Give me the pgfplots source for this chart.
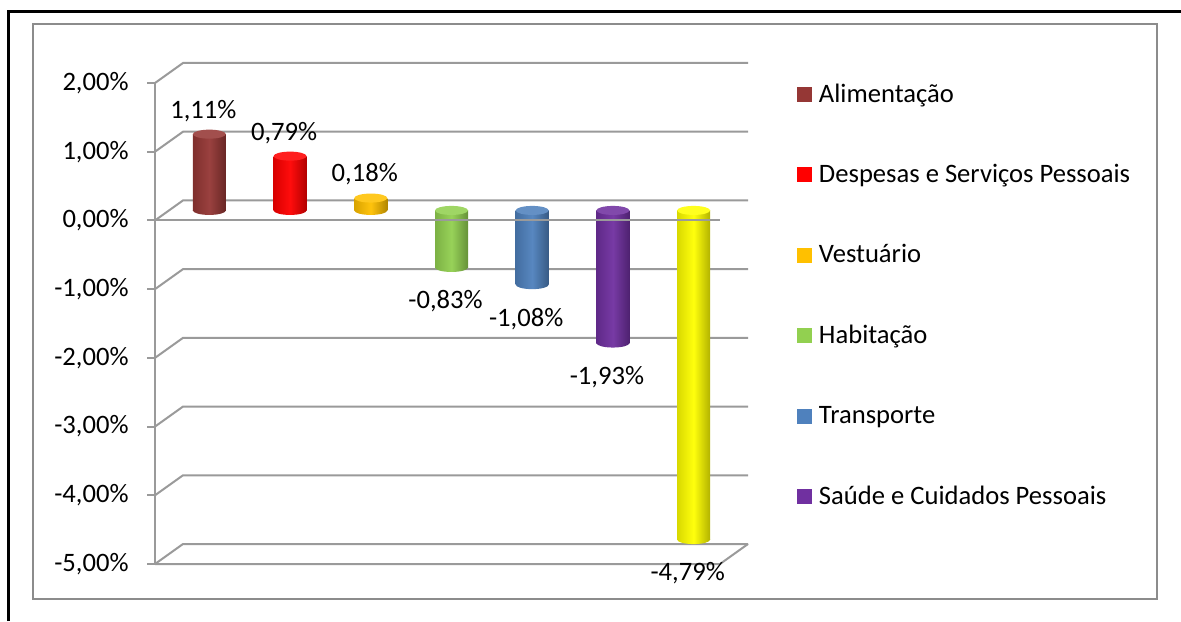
\documentclass[border=0pt]{standalone}
\usepackage{fontspec}
\setmainfont{Carlito}
\usepackage{pgfplots}
\pgfplotsset{compat=1.18}
\usetikzlibrary{shapes.geometric}
\definecolor{cA}{HTML}{953735}
\definecolor{cB}{HTML}{FF0000}
\definecolor{cC}{HTML}{FFC000}
\definecolor{cD}{HTML}{92D050}
\definecolor{cE}{HTML}{4F81BD}
\definecolor{cF}{HTML}{7030A0}
\definecolor{cG}{HTML}{FFFF00}
\definecolor{gridc}{HTML}{9A9A9A}
\definecolor{framec}{HTML}{8C8C8C}
\newcommand\lbl{\fontsize{13.3}{15.5}\selectfont}
\tikzset{
  body/.style={left color=#1!85!black, right color=#1!70!black, middle color=#1!95!white},
  cap/.style={fill=#1!88!white},
  ell/.style={ellipse, inner sep=0pt, minimum width=16.5pt, minimum height=4.5pt, anchor=center, draw=none},
}
% positive cylinder: x, value, colour, label
\newcommand\cylpos[4]{%
  \addplot[forget plot, draw=none, nodes near coords={}, every node near coord/.style={ell, body=#3}] coordinates {(#1,0)};
  \addplot[forget plot, ybar, bar width=16.5pt, bar shift=0pt, draw=none, body=#3] coordinates {(#1,#2)};
  \addplot[forget plot, draw=none, nodes near coords={}, every node near coord/.style={ell, cap=#3}] coordinates {(#1,#2)};
  \addplot[forget plot, draw=none, nodes near coords={#4}, every node near coord/.style={anchor=center, xshift=-3pt, yshift=11.75pt, font=\lbl, text=black, draw=none, fill=none}] coordinates {(#1,#2)};
}
\newcommand\cylneg[4]{%
  \addplot[forget plot, draw=none, nodes near coords={}, every node near coord/.style={ell, body=#3}] coordinates {(#1,#2)};
  \addplot[forget plot, ybar, bar width=16.5pt, bar shift=0pt, draw=none, body=#3] coordinates {(#1,#2)};
  \addplot[forget plot, draw=none, nodes near coords={}, every node near coord/.style={ell, cap=#3}] coordinates {(#1,0)};
  \addplot[forget plot, draw=none, nodes near coords={#4}, every node near coord/.style={anchor=center, xshift=-3pt, yshift=-17pt, font=\lbl, text=black, draw=none, fill=none}] coordinates {(#1,#2)};
}
\begin{document}
\begin{tikzpicture}
\path[use as bounding box] (0,0) rectangle (590.5pt,310.5pt);
\draw[line width=1.5pt] (4pt,0pt) -- (4pt,304.5pt) -- (590.5pt,304.5pt);
\draw[framec, line width=1pt] (16.5pt,11pt) rectangle (578.5pt,298.5pt);
% front plane axis: y axis, ticks, walls
\begin{axis}[
  at={(77.5pt,28.5pt)}, anchor=south west, scale only axis,
  width=282.5pt, height=240.5pt,
  xmin=0.5, xmax=7.5, ymin=-5, ymax=2, clip=false,
  axis x line=none, axis y line*=left,
  y axis line style={draw=gridc, line width=1pt},
  ytick={-5,-4,-3,-2,-1,0,1,2},
  yticklabels={{-5,00\%},{-4,00\%},{-3,00\%},{-2,00\%},{-1,00\%},{0,00\%},{1,00\%},{2,00\%}},
  tick align=outside, major tick length=4pt,
  ytick style={draw=gridc, line width=1pt},
  yticklabel style={font=\lbl, anchor=east, inner sep=0pt, xshift=-9pt},
  xtick=\empty,
]
\pgfplotsinvokeforeach{-5,-4,-3,-2,-1,0,1,2}{%
  \draw[gridc, line width=1pt] (axis cs:0.5,#1) -- ([shift={(14pt,10pt)}]axis cs:0.5,#1) -- ([shift={(14pt,10pt)}]axis cs:7.5,#1);
}
\draw[gridc, line width=1pt] (axis cs:0.5,-5) -- (axis cs:7.5,-5) -- ([shift={(14pt,10pt)}]axis cs:7.5,-5);
\end{axis}
% middle plane axis: cylinders
\begin{axis}[
  at={(84.5pt,33.5pt)}, anchor=south west, scale only axis,
  width=282.5pt, height=240.5pt,
  xmin=0.5, xmax=7.5, ymin=-5, ymax=2, clip=false, hide axis,
  legend style={at={(1.1115,0.9771)}, anchor=north west, draw=none, fill=none,
    inner sep=0pt, outer sep=0pt, row sep=28.2pt, column sep=3.5pt, font=\lbl,
    nodes={inner sep=0pt, text height=9pt, text depth=3pt}},
  legend cell align=left,
  legend image code/.code={\fill[#1] (0pt,-3pt) rectangle (7.5pt,4.5pt);},
]
\cylpos{1}{1.11}{cA}{1,11\%}
\cylpos{2}{0.79}{cB}{0,79\%}
\cylpos{3}{0.18}{cC}{0,18\%}
\cylneg{4}{-0.83}{cD}{-0,83\%}
\cylneg{5}{-1.08}{cE}{-1,08\%}
\cylneg{6}{-1.93}{cF}{-1,93\%}
\cylneg{7}{-4.79}{cG}{-4,79\%}
\draw[gridc, line width=1pt] ([shift={(-7pt,-5pt)}]axis cs:0.5,0) -- ([shift={(-7pt,-5pt)}]axis cs:7.5,0);
\addlegendimage{fill=cA, draw=none}\addlegendentry{Alimentação}
\addlegendimage{fill=cB, draw=none}\addlegendentry{Despesas e Serviços Pessoais}
\addlegendimage{fill=cC, draw=none}\addlegendentry{Vestuário}
\addlegendimage{fill=cD, draw=none}\addlegendentry{Habitação}
\addlegendimage{fill=cE, draw=none}\addlegendentry{Transporte}
\addlegendimage{fill=cF, draw=none}\addlegendentry{Saúde e Cuidados Pessoais}
\end{axis}
\end{tikzpicture}
\end{document}
